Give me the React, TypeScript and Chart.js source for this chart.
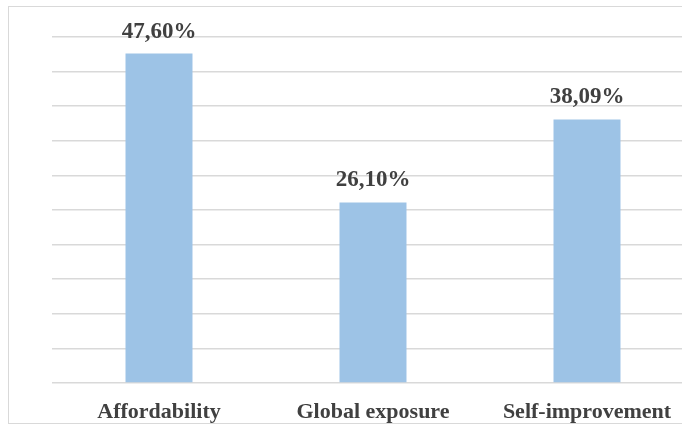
import React, { useEffect, useRef } from "react";
import { Chart, registerables } from "chart.js";

Chart.register(...registerables);

const categories = ["Affordability", "Global exposure", "Self-improvement"];
const values = [47.6, 26.1, 38.09];
const valueLabels = ["47,60%", "26,10%", "38,09%"];

const labelPlugin = {
  id: "valueLabels",
  afterDatasetsDraw(chart: any) {
    const ctx = chart.ctx;
    const meta = chart.getDatasetMeta(0);
    ctx.save();
    ctx.font = "bold 23px 'Liberation Serif', 'Times New Roman', serif";
    ctx.fillStyle = "#404040";
    ctx.textAlign = "center";
    ctx.textBaseline = "alphabetic";
    meta.data.forEach((bar: any, i: number) => {
      ctx.fillText(valueLabels[i], bar.x, bar.y - 16);
    });
    ctx.restore();
  },
};

export default function App() {
  const ref = useRef<HTMLCanvasElement>(null);
  useEffect(() => {
    if (!ref.current) return;
    const chart = new Chart(ref.current, {
      type: "bar",
      data: {
        labels: categories,
        datasets: [
          {
            data: values,
            backgroundColor: "#9dc3e6",
            borderWidth: 0,
            barPercentage: 0.313,
            categoryPercentage: 1,
          },
        ],
      },
      options: {
        animation: false,
        responsive: false,
        maintainAspectRatio: false,
        layout: { padding: { left: 52, top: 37, right: 6, bottom: 0 } },
        plugins: { legend: { display: false }, tooltip: { enabled: false } },
        scales: {
          x: {
            grid: { display: false, drawTicks: false },
            border: { display: false },
            ticks: {
              padding: 16,
              color: "#404040",
              font: { family: "'Liberation Serif', 'Times New Roman', serif", size: 22, weight: "bold" },
            },
            afterFit: (s: any) => {
              s.height = 42;
            },
          },
          y: {
            min: 0,
            max: 50,
            ticks: { display: false, stepSize: 5 },
            grid: { color: "#d9d9d9", lineWidth: 1.5, drawTicks: false },
            border: { display: false },
            afterFit: (s: any) => {
              s.width = 0;
            },
          },
        },
      },
      plugins: [labelPlugin],
    });
    return () => chart.destroy();
  }, []);

  return (
    <div
      style={{
        position: "fixed",
        left: 0,
        top: 0,
        width: 682,
        height: 425,
        overflow: "hidden",
        background: "#fff",
      }}
    >
      <canvas ref={ref} width={700} height={425} style={{ position: "absolute", left: 0, top: 0 }} />
      <div
        style={{
          position: "absolute",
          left: 8,
          top: 6,
          width: 700,
          height: 416,
          border: "1.5px solid #d9d9d9",
          pointerEvents: "none",
        }}
      />
    </div>
  );
}
